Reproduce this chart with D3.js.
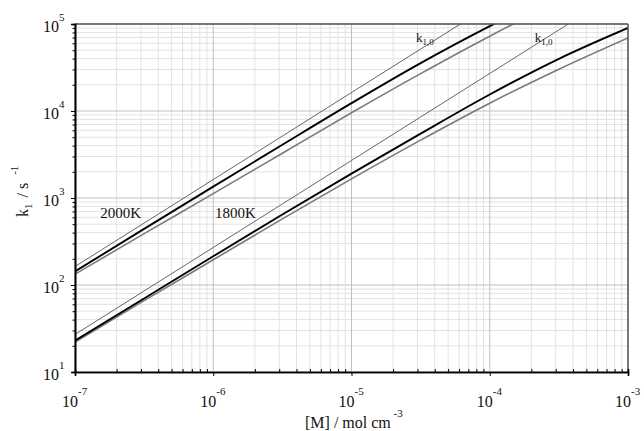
<!DOCTYPE html>
<html><head><meta charset="utf-8">
<script src="https://cdn.jsdelivr.net/npm/d3@7"></script>
<style>body{margin:0;background:#fff}svg{display:block}text{font-family:"Liberation Serif","DejaVu Serif",serif;fill:#111}</style>
</head><body><svg id="c" width="644" height="431"></svg>
<script>
// ---- data ----
const M = [1e-7, 3.162e-7, 1e-6, 3.162e-6, 1e-5, 3.162e-5, 1e-4, 3.162e-4, 1e-3];
const k10_2000 = [163, 515, 1630, 5150, 16300, 51500, 163000, 515000, 1630000];
const k1_2000  = [143, 442, 1350, 4090, 12300, 35500, 94400, 234000, 525000];
const k1b_2000 = [133, 389, 1122, 3273, 9550, 26900, 72400, 182000, 417000];
const k10_1800 = [27, 85.4, 270, 854, 2700, 8540, 27000, 85400, 270000];
const k1_1800  = [22.9, 70.0, 214, 646, 1905, 5495, 15490, 39810, 90160];
const k1b_1800 = [22.1, 66.1, 195, 575, 1660, 4624, 12300, 30200, 69180];
const xTickExp = [-7, -6, -5, -4, -3];
const yTickExp = [1, 2, 3, 4, 5];
const labels = [{t:"2000K", M:1.52e-7, k:590}, {t:"1800K", M:1.03e-6, k:590}];
const k10Labels = [{M:2.93e-5, k:6.2e4}, {M:2.12e-4, k:6.2e4}];

// ---- layout ----
const L = 75, R = 628, T = 24, B = 372;
const x = d3.scaleLog().domain([1e-7, 1e-3]).range([L, R]);
const y = d3.scaleLog().domain([1e1, 1e5]).range([B, T]);
const svg = d3.select("#c");

svg.append("defs").append("clipPath").attr("id","clip")
  .append("rect").attr("x",L).attr("y",T).attr("width",R-L).attr("height",B-T);

// minor/major grid values
const minorX = [], minorY = [];
for (let e=-7; e<-3; e++) for (let m=2; m<=9; m++) minorX.push(m*Math.pow(10,e));
for (let e=1; e<5; e++) for (let m=2; m<=9; m++) minorY.push(m*Math.pow(10,e));
const majX = xTickExp.map(e=>Math.pow(10,e)), majY = yTickExp.map(e=>Math.pow(10,e));

const g = svg.append("g");
g.selectAll(".mx").data(minorX).join("line").attr("x1",d=>x(d)).attr("x2",d=>x(d)).attr("y1",T).attr("y2",B).attr("stroke","#e2e2e2").attr("stroke-width",1);
g.selectAll(".my").data(minorY).join("line").attr("y1",d=>y(d)).attr("y2",d=>y(d)).attr("x1",L).attr("x2",R).attr("stroke","#e2e2e2").attr("stroke-width",1);
g.selectAll(".Mx").data(majX).join("line").attr("x1",d=>x(d)).attr("x2",d=>x(d)).attr("y1",T).attr("y2",B).attr("stroke","#c0c0c0").attr("stroke-width",1);
g.selectAll(".My").data(majY).join("line").attr("y1",d=>y(d)).attr("y2",d=>y(d)).attr("x1",L).attr("x2",R).attr("stroke","#c0c0c0").attr("stroke-width",1);

// curves
const line = d3.line().x(d=>x(d[0])).y(d=>y(d[1])).curve(d3.curveMonotoneX);
const series = [
  {v:k10_2000, c:"#555", w:0.9},
  {v:k10_1800, c:"#555", w:0.9},
  {v:k1b_2000, c:"#7a7a7a", w:1.6},
  {v:k1b_1800, c:"#7a7a7a", w:1.6},
  {v:k1_2000, c:"#000", w:1.9},
  {v:k1_1800, c:"#000", w:1.9}
];
const cg = svg.append("g").attr("clip-path","url(#clip)");
series.forEach(s=>{
  cg.append("path").attr("d", line(M.map((m,i)=>[m, s.v[i]])))
    .attr("fill","none").attr("stroke",s.c).attr("stroke-width",s.w);
});

// frame
svg.append("line").attr("x1",L).attr("x2",R).attr("y1",T).attr("y2",T).attr("stroke","#555").attr("stroke-width",1.5);
svg.append("line").attr("x1",R).attr("x2",R).attr("y1",T).attr("y2",B).attr("stroke","#555").attr("stroke-width",1.5);

// axes
const xAxisMinor = d3.axisBottom(x).tickValues(minorX).tickSize(-3).tickFormat("");
const xAxisMajor = d3.axisBottom(x).tickValues(majX).tickSize(4).tickFormat("");
const yAxisMinor = d3.axisLeft(y).tickValues(minorY).tickSize(2.5).tickFormat("");
const yAxisMajor = d3.axisLeft(y).tickValues(majY).tickSize(4).tickFormat("");
[xAxisMinor, xAxisMajor].forEach(a=>{
  const ax = svg.append("g").attr("transform",`translate(0,${B})`).call(a);
  ax.select(".domain").attr("stroke","#000").attr("stroke-width",1.6);
  ax.selectAll(".tick line").attr("stroke","#000").attr("stroke-width",1);
});
[yAxisMinor, yAxisMajor].forEach(a=>{
  const ax = svg.append("g").attr("transform",`translate(${L},0)`).call(a);
  ax.select(".domain").attr("stroke","#000").attr("stroke-width",1.6);
  ax.selectAll(".tick line").attr("stroke","#000").attr("stroke-width",1);
});

// tick labels
xTickExp.forEach(e=>{
  const px = x(Math.pow(10,e));
  svg.append("text").attr("x",px+3).attr("y",407).attr("text-anchor","end").attr("font-size",16).text("10");
  svg.append("text").attr("x",px+3).attr("y",395).attr("font-size",11).text(String(e));
});
yTickExp.forEach(e=>{
  const py = y(Math.pow(10,e));
  svg.append("text").attr("x",59).attr("y",py+7.5).attr("text-anchor","end").attr("font-size",16).text("10");
  svg.append("text").attr("x",59).attr("y",py-3.5).attr("font-size",11).text(String(e));
});

// axis titles
const xt = svg.append("text").attr("x",305).attr("y",428).attr("font-size",16);
xt.append("tspan").text("[M] / mol cm");
xt.append("tspan").attr("font-size",11).attr("dy",-11).text(" -3");

const yt = svg.append("text").attr("transform","translate(28,217) rotate(-90)").attr("font-size",16);
yt.append("tspan").text("k");
yt.append("tspan").attr("font-size",11).attr("dy",4).text("1");
yt.append("tspan").attr("dy",-4).attr("dx",2).text(" /  s");
yt.append("tspan").attr("font-size",11).attr("dy",-10).attr("dx",8).text("-1");

// annotations
labels.forEach(l=>{
  svg.append("text").attr("x",x(l.M)).attr("y",y(l.k)).attr("font-size",15).text(l.t);
});
k10Labels.forEach(l=>{
  const t = svg.append("text").attr("x",x(l.M)).attr("y",y(l.k)).attr("font-size",13);
  t.append("tspan").text("k");
  t.append("tspan").attr("font-size",9).attr("dy",3).text("1,0");
});
</script></body></html>
